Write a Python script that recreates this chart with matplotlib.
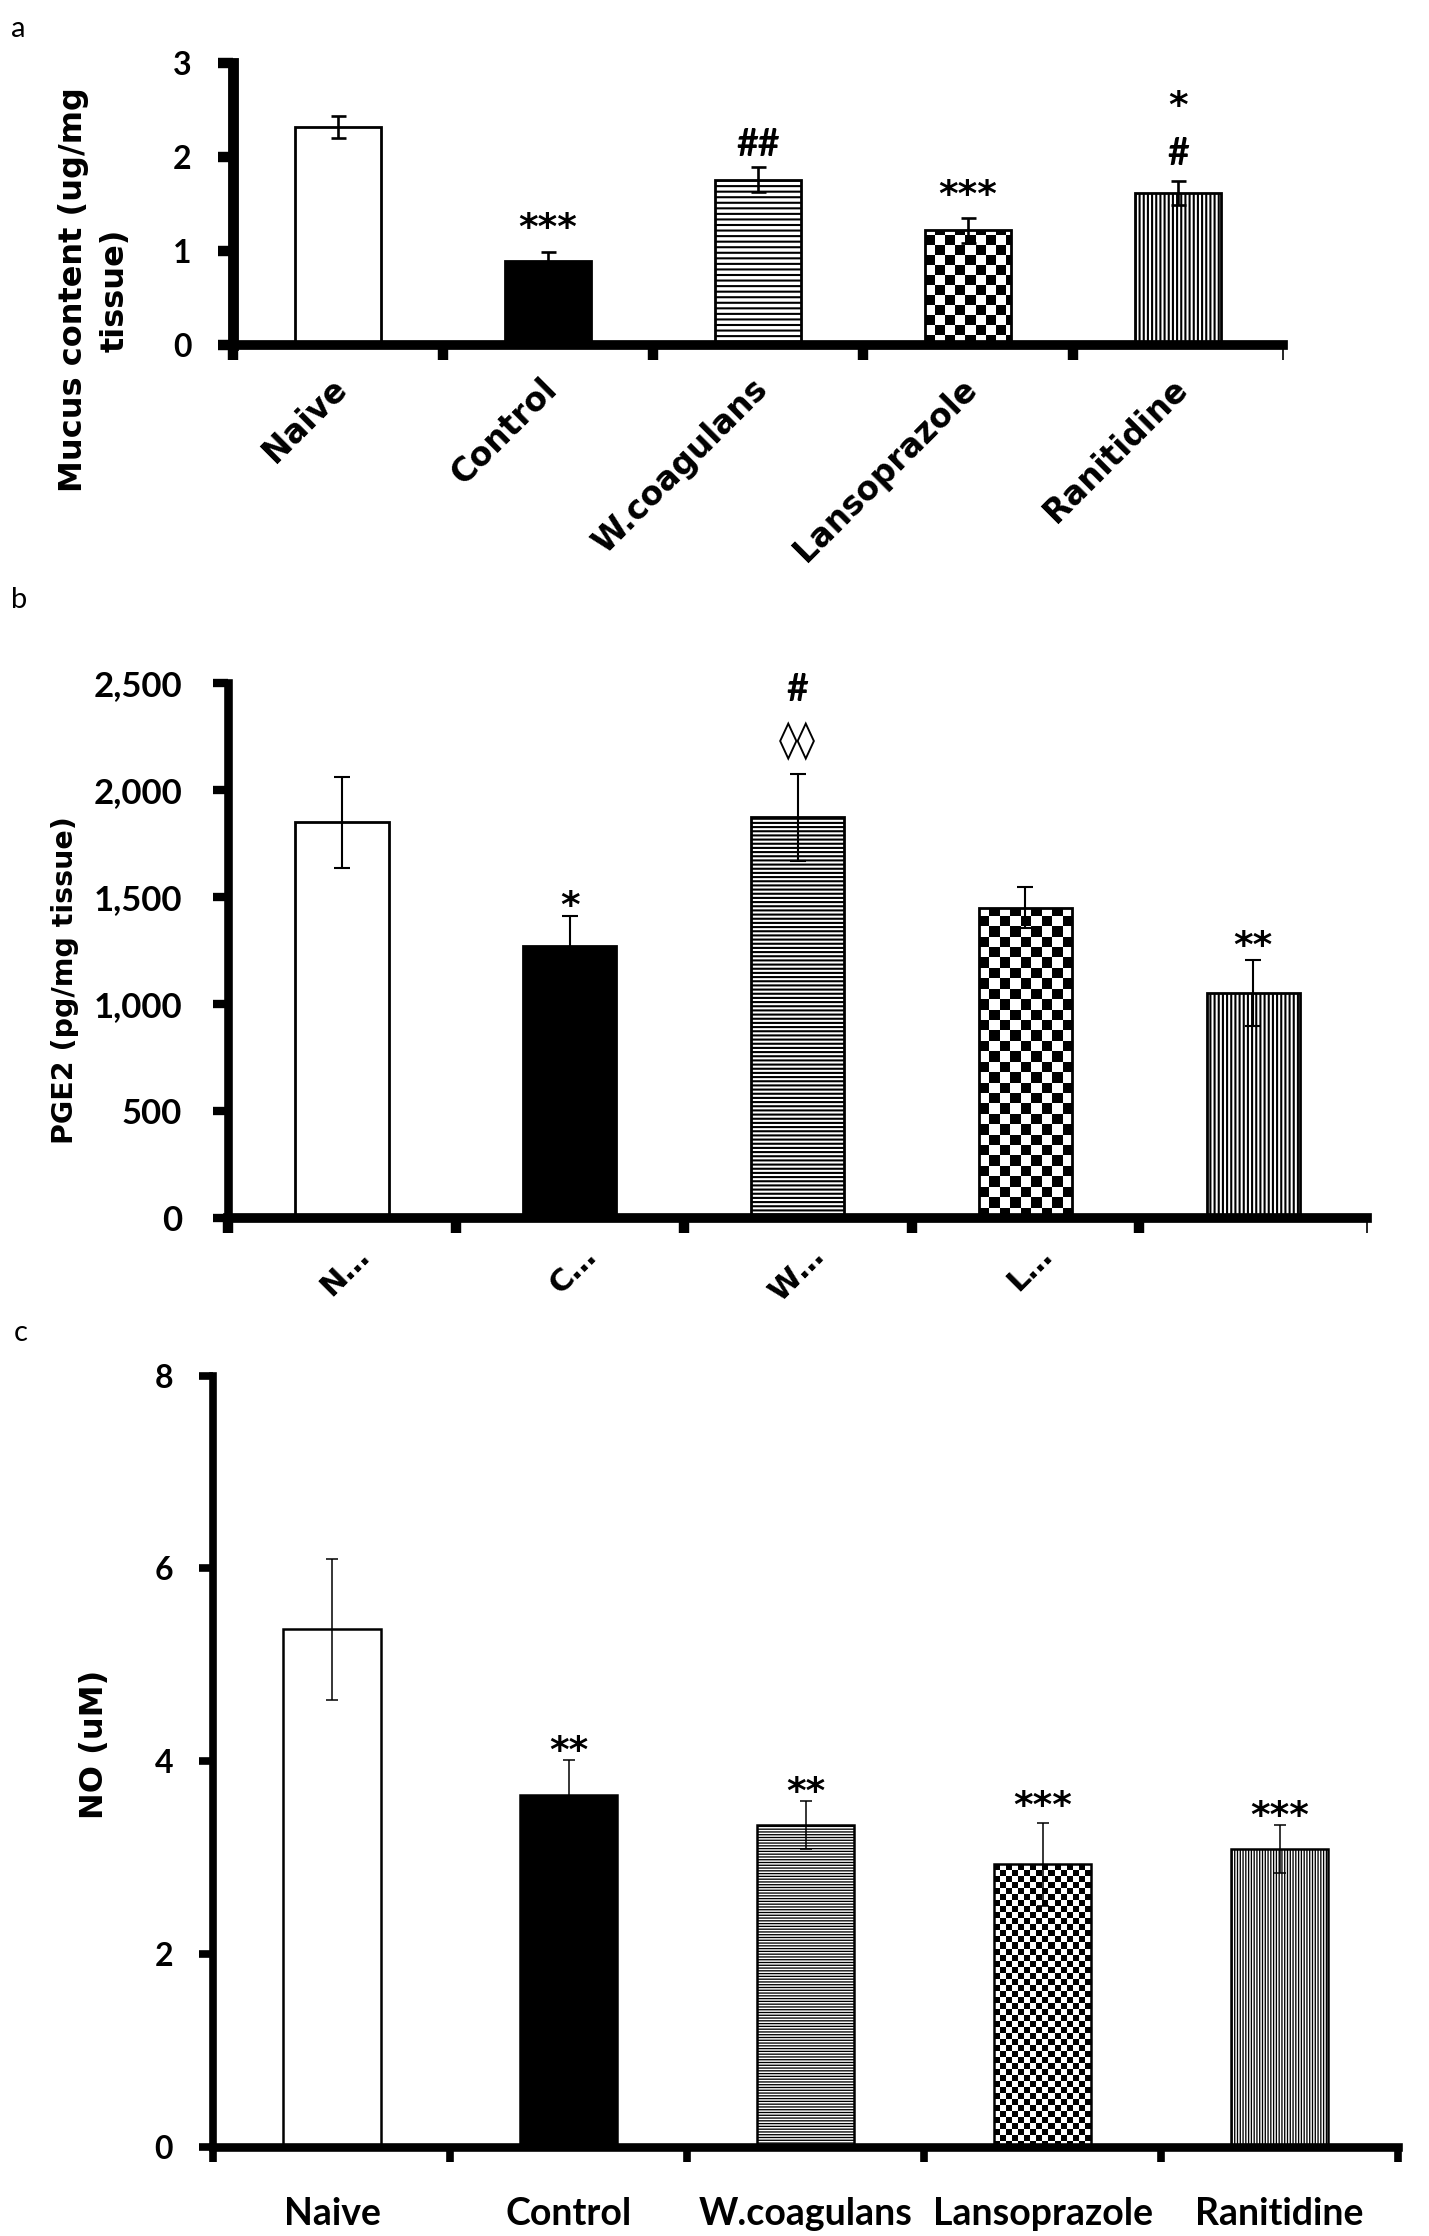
import numpy as np
import matplotlib
matplotlib.use("Agg")
import matplotlib.pyplot as plt
from matplotlib.transforms import ScaledTranslation

# groups and values
groups = ["Naive", "Control", "W.coagulans", "Lansoprazole", "Ranitidine"]

mucus_mean = [2.32, 0.89, 1.76, 1.22, 1.62]
mucus_err = [0.12, 0.10, 0.13, 0.13, 0.13]
mucus_ticks = [0, 1, 2, 3]
mucus_marks = [(1, "***", 1.37), (2, "##", 2.16), (3, "***", 1.72), (4, "#", 2.06), (4, "*", 2.67)]

pge2_mean = [1848, 1272, 1873, 1450, 1052]
pge2_err = [214, 140, 203, 95, 155]
pge2_ticks = [0, 500, 1000, 1500, 2000, 2500]
pge2_ticklabels = ["0", "500", "1,000", "1,500", "2,000", "2,500"]
pge2_xlabels = ["N…", "C…", "W…", "L…", ""]
pge2_marks = [(1, "*", 1509), (2, "◊◊", 2243), (2, "#", 2477), (4, "**", 1325)]

no_mean = [5.37, 3.65, 3.34, 2.93, 3.09]
no_err = [0.73, 0.36, 0.25, 0.43, 0.25]
no_ticks = [0, 2, 4, 6, 8]
no_marks = [(1, "**", 4.22), (2, "**", 3.80), (3, "***", 3.65), (4, "***", 3.55)]

CAL = ["Lato", "DejaVu Sans"]      # stands in for Calibri
VER = ["DejaVu Sans"]              # stands in for Verdana

fig = plt.figure(figsize=(14.29, 22.36), dpi=100)


def panel(rect, means, errs, ylim, hatch_h, hatch_v, hatch_lw, check_px, lw_spine_l,
          lw_spine_b, edge_lw, err_lw, capsize):
    plt.rcParams["hatch.linewidth"] = hatch_lw
    ax = fig.add_axes(rect)
    x = np.arange(len(means))
    ax.set_xlim(-0.5, len(means) - 0.5)
    ax.set_ylim(*ylim)
    faces = ["white", "black", "white", "none", "white"]
    hatches = [None, None, hatch_h, None, hatch_v]
    bars = ax.bar(x, means, width=0.41, color=faces, edgecolor="black",
                  linewidth=edge_lw, zorder=3)
    for b, h in zip(bars, hatches):
        if h:
            b.set_hatch(h)
            if hasattr(b, "set_hatch_linewidth"):
                b.set_hatch_linewidth(hatch_lw)

    # checkerboard fill for Lansoprazole, clipped to the bar
    lan = bars[3]
    x0, w, h = lan.get_x(), lan.get_width(), lan.get_height()
    sx = ax.transData.transform((1, 0))[0] - ax.transData.transform((0, 0))[0]
    sy = ax.transData.transform((0, 1))[1] - ax.transData.transform((0, 0))[1]
    cx, cy = check_px / sx, check_px / sy
    nx, ny = int(np.ceil(w / cx)), int(np.ceil(h / cy))
    grid = np.add.outer(np.arange(ny), np.arange(nx)) % 2
    im = ax.imshow(grid, cmap="gray", vmin=0, vmax=1, origin="lower",
                   extent=(x0, x0 + nx * cx, 0, ny * cy), interpolation="none",
                   aspect="auto", zorder=2)
    im.set_clip_path(lan)
    ax.set_xlim(-0.5, len(means) - 0.5)
    ax.set_ylim(*ylim)

    ax.errorbar(x, means, yerr=errs, fmt="none", ecolor="black", elinewidth=err_lw,
                capsize=capsize, capthick=err_lw, zorder=4)

    for s in ["top", "right"]:
        ax.spines[s].set_visible(False)
    ax.spines["left"].set_linewidth(lw_spine_l)
    ax.spines["bottom"].set_linewidth(lw_spine_b)
    for s in ["left", "bottom"]:
        ax.spines[s].set_capstyle("projecting")
        ax.spines[s].set_zorder(5)
    ax.set_xticks(np.arange(-0.5, len(means)), minor=True)
    return ax, x


def marks(ax, items, star_fs, hash_fs):
    # text placed so the ink centre sits on the read-off height
    for i, t, y in items:
        if "*" in t:
            fam, fs, k = VER, star_fs, 0.60
        elif "◊" in t:
            fam, fs, k = VER, hash_fs, 0.38
        else:
            fam, fs, k = CAL, hash_fs, 0.36
        ax.annotate(t, (i, y), xytext=(0, -k * fs), textcoords="offset points",
                    ha="center", va="baseline", family=fam, fontweight="bold",
                    fontsize=fs, zorder=6, annotation_clip=False)


# ---------- a: mucus ----------
ax, x = panel([0.1631, 0.8457, 0.7348, 0.1261], mucus_mean, mucus_err, (0, 3),
              "---", "||||", 1.5, 10, 7.8, 7, 2, 1.9, 5.4)
ax.set_yticks(mucus_ticks, labels=[str(t) for t in mucus_ticks], family=CAL,
              fontweight="bold", fontsize=23)
ax.tick_params(axis="y", length=11, width=7.5, pad=19)
ax.set_xticks(x, labels=groups, rotation=45, ha="right", va="center",
              rotation_mode="anchor", family=VER, fontweight="bold", fontsize=23.5)
ax.tick_params(axis="x", which="major", length=0, pad=28)
ax.tick_params(axis="x", which="minor", length=11, width=7.5)
for lab in ax.get_xticklabels():
    lab.set_transform(lab.get_transform() + ScaledTranslation(3 / 72, 0, fig.dpi_scale_trans))
ax.xaxis.get_minor_ticks()[-1].tick1line.set_markeredgewidth(1.2)
marks(ax, mucus_marks, 27, 27)
fig.text(94 / 1429, 1 - 290 / 2236, "Mucus content (ug/mg\ntissue)", rotation=90,
         ha="center", va="center", multialignment="center", linespacing=1.45,
         family=VER, fontweight="bold", fontsize=23)
fig.text(0.0077, 1 - 29 / 2236, "a", ha="left", va="center", family=CAL, fontsize=21)

# ---------- b: PGE2 ----------
ax, x = panel([0.1596, 0.4553, 0.7971, 0.2393], pge2_mean, pge2_err, (0, 2500),
              "----", "||||", 1.5, 10.4, 6.2, 7, 2, 1.5, 6)
ax.set_yticks(pge2_ticks, labels=pge2_ticklabels, family=CAL, fontweight="bold",
              fontsize=25)
ax.tick_params(axis="y", length=11, width=6, pad=22)
ax.set_xticks(x, labels=pge2_xlabels, rotation=45, ha="right", va="center",
              rotation_mode="anchor", family=VER, fontweight="bold", fontsize=22)
ax.tick_params(axis="x", which="major", length=0, pad=24)
ax.tick_params(axis="x", which="minor", length=11, width=7.5)
for lab in ax.get_xticklabels():
    lab.set_transform(lab.get_transform() + ScaledTranslation(16 / 72, 0, fig.dpi_scale_trans))
ax.xaxis.get_minor_ticks()[-1].tick1line.set_markeredgewidth(1.2)
marks(ax, pge2_marks, 27, 27)
fig.text(65 / 1429, 1 - 980 / 2236, "PGE2 (pg/mg tissue)", rotation=90,
         ha="center", va="center", family=VER, fontweight="bold", fontsize=20.5)
fig.text(0.0077, 1 - 600 / 2236, "b", ha="left", va="center", family=CAL, fontsize=21)

# ---------- c: NO ----------
ax, x = panel([0.1494, 0.0400, 0.8289, 0.3447], no_mean, no_err, (0, 8),
              "------", "||||||", 0.95, 6, 5.5, 6.2, 1.8, 1.1, 4.3)
ax.set_yticks(no_ticks, labels=[str(t) for t in no_ticks], family=CAL,
              fontweight="bold", fontsize=23)
ax.tick_params(axis="y", length=10, width=5.5, pad=19)
ax.set_xticks(x, labels=groups, family=CAL, fontweight="bold", fontsize=27)
ax.tick_params(axis="x", which="major", length=0, pad=36)
ax.tick_params(axis="x", which="minor", length=11, width=5.5)
marks(ax, no_marks, 27, 27)
fig.text(95 / 1429, 1 - 1744 / 2236, "NO (uM)", rotation=90, ha="center", va="center",
         family=VER, fontweight="bold", fontsize=23)
fig.text(0.0098, 1 - 1333 / 2236, "c", ha="left", va="center", family=CAL, fontsize=21)

fig.savefig("out.png", dpi=100, facecolor="white")
